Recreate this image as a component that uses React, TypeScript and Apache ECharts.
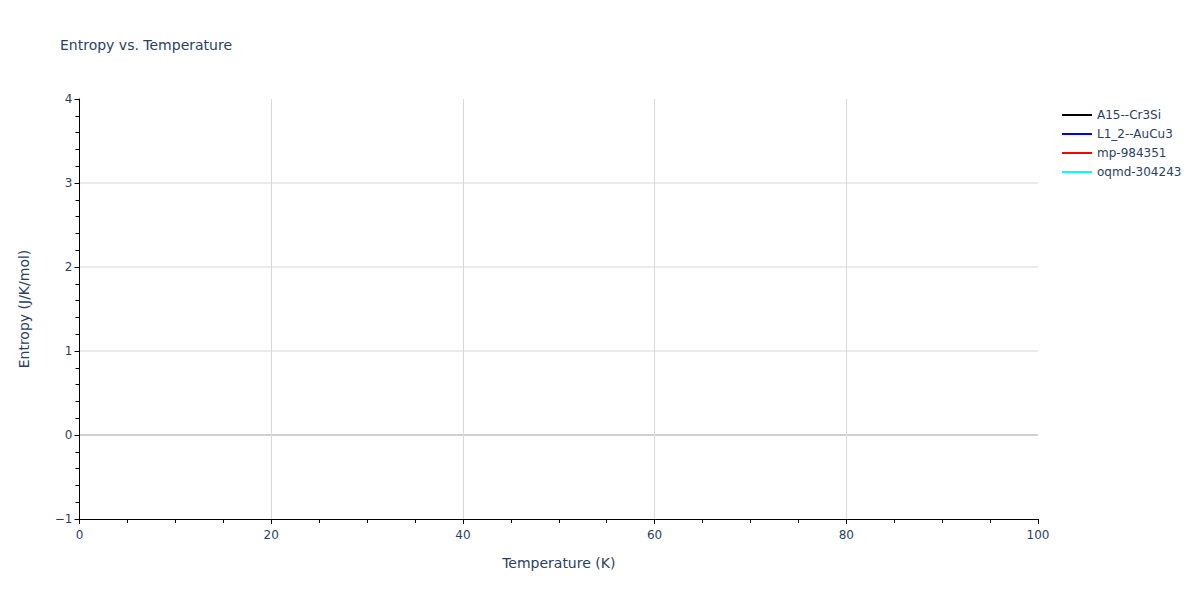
import React, { useEffect, useRef } from 'react'
import * as echarts from 'echarts'

const seriesNames = ['A15--Cr3Si', 'L1_2--AuCu3', 'mp-984351', 'oqmd-304243']
const seriesColors = ['#000000', '#0000ff', '#ff0000', '#00ffff']
// no points fall inside the visible window, so every series is empty
const seriesValues: [number, number][][] = [[], [], [], []]

const xTicks = [0, 20, 40, 60, 80, 100]
const yTicks = [-1, 0, 1, 2, 3, 4]

const FONT = '"DejaVu Sans", verdana, arial, sans-serif'
const TEXT = '#2a3f5f'

const App: React.FC = () => {
  const chartRef = useRef<HTMLDivElement>(null)

  useEffect(() => {
    if (!chartRef.current) return
    const chart = echarts.init(chartRef.current, undefined, { renderer: 'svg' })

    const option: echarts.EChartsOption = {
      animation: false,
      backgroundColor: '#ffffff',
      textStyle: { fontFamily: FONT },
      title: {
        text: 'Entropy vs. Temperature',
        left: 55,
        top: 33,
        textStyle: { fontFamily: FONT, fontSize: 14, fontWeight: 'normal', color: TEXT }
      },
      legend: {
        orient: 'vertical',
        left: 1057,
        top: 104,
        itemWidth: 30,
        itemHeight: 2,
        itemGap: 7,
        icon: 'rect',
        textStyle: { fontFamily: FONT, fontSize: 12, color: TEXT },
        data: seriesNames
      },
      grid: { left: 79.5, right: 162, top: 99, bottom: 81, containLabel: false },
      xAxis: {
        type: 'value',
        min: xTicks[0],
        max: xTicks[xTicks.length - 1],
        interval: 20,
        name: 'Temperature (K)',
        nameLocation: 'middle',
        nameGap: 37,
        nameTextStyle: { fontFamily: FONT, fontSize: 14, color: TEXT },
        axisLine: { show: true, onZero: false, lineStyle: { color: '#000000', width: 1 } },
        axisTick: { show: true, length: 5, lineStyle: { color: '#000000' } },
        minorTick: { show: true, splitNumber: 4, length: 4, lineStyle: { color: '#000000' } },
        axisLabel: { fontFamily: FONT, fontSize: 12, color: TEXT, margin: 10 },
        splitLine: {
          show: true,
          lineStyle: {
            color: ['transparent', '#d8d8d8', '#d8d8d8', '#d8d8d8', '#d8d8d8', 'transparent'],
            width: 1
          }
        }
      },
      yAxis: {
        type: 'value',
        min: yTicks[0],
        max: yTicks[yTicks.length - 1],
        interval: 1,
        name: 'Entropy (J/K/mol)',
        nameLocation: 'middle',
        nameRotate: 90,
        nameGap: 49,
        nameTextStyle: { fontFamily: FONT, fontSize: 14, color: TEXT },
        axisLine: { show: true, onZero: false, lineStyle: { color: '#000000', width: 1 } },
        axisTick: { show: true, length: 5, lineStyle: { color: '#000000' } },
        minorTick: { show: true, splitNumber: 5, length: 4, lineStyle: { color: '#000000' } },
        axisLabel: {
          fontFamily: FONT,
          fontSize: 12,
          color: TEXT,
          margin: 7,
          formatter: (v: number) => String(v).replace('-', '\u2212')
        },
        splitLine: {
          show: true,
          lineStyle: {
            color: ['transparent', '#d0d0d0', '#ebebeb', '#ebebeb', '#ebebeb', 'transparent'],
            width: 2
          }
        }
      },
      series: seriesNames.map((name, i) => ({
        name,
        type: 'line',
        data: seriesValues[i],
        showSymbol: false,
        color: seriesColors[i],
        lineStyle: { color: seriesColors[i], width: 2 },
        itemStyle: { color: seriesColors[i] }
      }))
    }

    chart.setOption(option)
    return () => chart.dispose()
  }, [])

  return <div ref={chartRef} style={{ width: 1200, height: 600, margin: -8 }} />
}

export default App
